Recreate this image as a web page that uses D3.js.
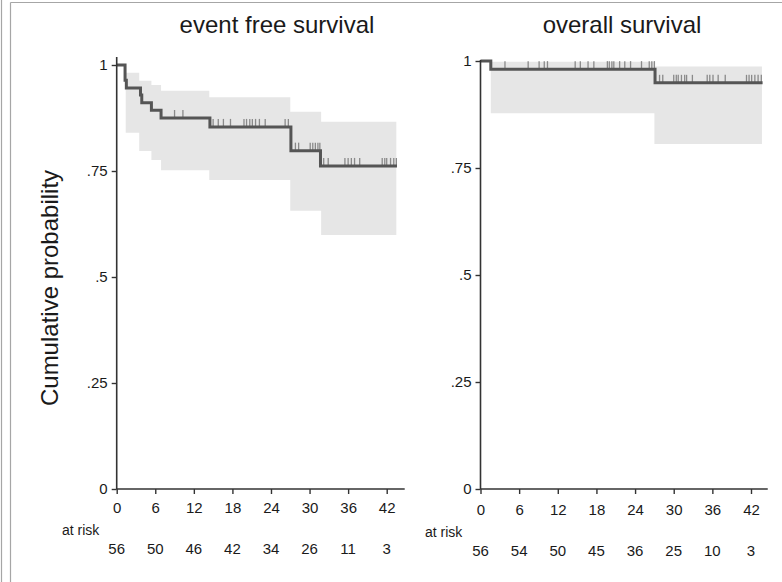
<!DOCTYPE html>
<html>
<head>
<meta charset="utf-8">
<script src="https://cdn.jsdelivr.net/npm/d3@7"></script>
<style>
  body { margin: 0; background: #fff; }
  svg { display: block; }
  text { font-family: "Liberation Sans", Arial, sans-serif; fill: #1a1a1a; }
</style>
</head>
<body>
<svg id="chart" width="782" height="582"></svg>
<script>
// ---- shared axis values ----
const monthTicks = [0, 6, 12, 18, 24, 30, 36, 42];
const probTicks = [0, 0.25, 0.5, 0.75, 1];
const probTickLabels = ["0", ".25", ".5", ".75", "1"];
const yAxisTitle = "Cumulative probability";
const atRiskLabel = "at risk";

// ---- event free survival ----
const efsTitle = "event free survival";
// [month, survival from that month on]
const efsSteps = [[0, 1], [1.3, 0.964], [1.5, 0.946], [3.7, 0.929], [3.9, 0.911],
  [5.4, 0.893], [6.9, 0.875], [14.5, 0.854], [27.1, 0.798], [31.7, 0.762]];
const efsLastMonth = 43.6;
// [month, lower, upper]
const efsBand = [[1.4, 0.840, 0.982], [3.5, 0.797, 0.963], [5.4, 0.776, 0.953],
  [6.9, 0.752, 0.939], [14.4, 0.729, 0.924], [27.0, 0.656, 0.890], [31.8, 0.599, 0.866]];
const efsBandEnd = 43.5;
const efsCensored = [9.0, 10.3, 15.0, 15.8, 16.6, 17.7, 19.8, 20.2, 20.7, 21.1, 21.6, 22.2,
  23.1, 26.2, 26.7, 27.8, 28.3, 30.1, 30.5, 30.9, 31.3, 31.6, 32.2, 32.9, 35.5, 36.0, 36.5,
  37.0, 37.8, 41.3, 41.7, 42.0, 42.6, 43.1, 43.5];
const efsAtRisk = [56, 50, 46, 42, 34, 26, 11, 3];

// ---- overall survival ----
const osTitle = "overall survival";
const osSteps = [[0, 1], [1.6, 0.981], [27.1, 0.949]];
const osLastMonth = 43.8;
const osBand = [[1.6, 0.878, 0.998], [27.0, 0.806, 0.987]];
const osBandEnd = 43.7;
const osCensored = [3.8, 7.4, 9.1, 9.9, 10.4, 14.7, 15.5, 16.7, 17.6, 19.7, 20.0, 20.4, 20.7,
  21.6, 22.4, 23.3, 25.0, 26.2, 26.6, 27.0, 27.8, 28.3, 30.0, 30.4, 30.7, 31.2, 31.7, 32.0,
  32.9, 35.2, 35.6, 36.1, 36.9, 38.0, 41.3, 41.7, 42.1, 42.6, 43.1, 43.6];
const osAtRisk = [56, 54, 50, 45, 36, 25, 10, 3];

// ---- layout ----
const panels = [
  { title: efsTitle, steps: efsSteps, last: efsLastMonth, band: efsBand, bandEnd: efsBandEnd,
    censored: efsCensored, atRisk: efsAtRisk,
    x0: 116.7, x42: 386.7, y0: 489, y1: 65, yTop: 57, axisEndMonth: 44.8,
    titleX: 277, atRiskX: 62, tickDy: 0, riskDy: 0 },
  { title: osTitle, steps: osSteps, last: osLastMonth, band: osBand, bandEnd: osBandEnd,
    censored: osCensored, atRisk: osAtRisk,
    x0: 480.5, x42: 751, y0: 489, y1: 61, yTop: 60, axisEndMonth: 44.6,
    titleX: 622, atRiskX: 425, tickDy: 2, riskDy: 2 }
];

const svg = d3.select("#chart");

// frame lines
const frame = svg.append("g").attr("stroke", "#a6a6a6").attr("stroke-width", 1.2).attr("fill", "none");
frame.append("line").attr("x1", 1.5).attr("x2", 1.5).attr("y1", 0).attr("y2", 582);
frame.append("line").attr("x1", 10.5).attr("x2", 10.5).attr("y1", 2.5).attr("y2", 582);
frame.append("line").attr("x1", 10.5).attr("x2", 782).attr("y1", 2.5).attr("y2", 2.5);

// y axis title
svg.append("text")
  .attr("transform", "translate(58,288) rotate(-90)")
  .attr("text-anchor", "middle")
  .style("font-size", "24px")
  .text(yAxisTitle);

function survivalAt(steps, t) {
  let s = steps[0][1];
  for (const [m, v] of steps) { if (m <= t) s = v; }
  return s;
}

panels.forEach(p => {
  const x = d3.scaleLinear().domain([0, 42]).range([p.x0, p.x42]);
  const y = d3.scaleLinear().domain([0, 1]).range([p.y0, p.y1]);
  const g = svg.append("g");

  // title
  g.append("text")
    .attr("x", p.titleX).attr("y", 33)
    .attr("text-anchor", "middle")
    .style("font-size", "24px")
    .text(p.title);

  // confidence band
  const bandPts = p.band.concat([[p.bandEnd, p.band[p.band.length - 1][1], p.band[p.band.length - 1][2]]]);
  g.append("path")
    .datum(bandPts)
    .attr("fill", "#e6e6e6")
    .attr("d", d3.area().curve(d3.curveStepAfter)
      .x(d => x(d[0])).y0(d => y(d[1])).y1(d => y(d[2])));

  // censoring marks
  g.append("g").selectAll("line")
    .data(p.censored)
    .join("line")
    .attr("x1", d => x(d)).attr("x2", d => x(d))
    .attr("y1", d => y(survivalAt(p.steps, d)))
    .attr("y2", d => y(survivalAt(p.steps, d)) - 8)
    .attr("stroke", "#8a8a8a")
    .attr("stroke-width", 1.3);

  // survival curve
  const curvePts = p.steps.concat([[p.last, p.steps[p.steps.length - 1][1]]]);
  g.append("path")
    .datum(curvePts)
    .attr("fill", "none")
    .attr("stroke", "#555")
    .attr("stroke-width", 3)
    .attr("d", d3.line().curve(d3.curveStepAfter).x(d => x(d[0])).y(d => y(d[1])));

  // y axis
  const yAxis = g.append("g")
    .attr("transform", `translate(${p.x0},0)`)
    .call(d3.axisLeft(y).tickValues(probTicks)
      .tickFormat((d, i) => probTickLabels[i]).tickSize(5).tickPadding(4));
  yAxis.select(".domain").remove();
  yAxis.selectAll("line").attr("stroke", "#333").attr("stroke-width", 1.4);
  yAxis.selectAll("text").style("font-size", "15px").style("font-family", null).attr("fill", "#1a1a1a");
  g.append("line")
    .attr("x1", p.x0).attr("x2", p.x0)
    .attr("y1", p.y0).attr("y2", p.yTop)
    .attr("stroke", "#333").attr("stroke-width", 1.6);

  // x axis
  const xAxis = g.append("g")
    .attr("transform", `translate(0,${p.y0})`)
    .call(d3.axisBottom(x).tickValues(monthTicks).tickSize(5).tickPadding(8 + p.tickDy));
  xAxis.select(".domain").remove();
  xAxis.selectAll("line").attr("stroke", "#333").attr("stroke-width", 1.4);
  xAxis.selectAll("text").style("font-size", "15px").style("font-family", null).attr("fill", "#1a1a1a");
  g.append("line")
    .attr("x1", p.x0).attr("x2", x(p.axisEndMonth))
    .attr("y1", p.y0).attr("y2", p.y0)
    .attr("stroke", "#333").attr("stroke-width", 1.6);

  // numbers at risk
  g.append("text")
    .attr("x", p.atRiskX).attr("y", 535 + p.riskDy)
    .style("font-size", "14px")
    .text(atRiskLabel);
  g.append("g").selectAll("text")
    .data(p.atRisk)
    .join("text")
    .attr("x", (d, i) => x(monthTicks[i]))
    .attr("y", 554 + p.riskDy)
    .attr("text-anchor", "middle")
    .style("font-size", "15px")
    .text(d => d);
});
</script>
</body>
</html>
